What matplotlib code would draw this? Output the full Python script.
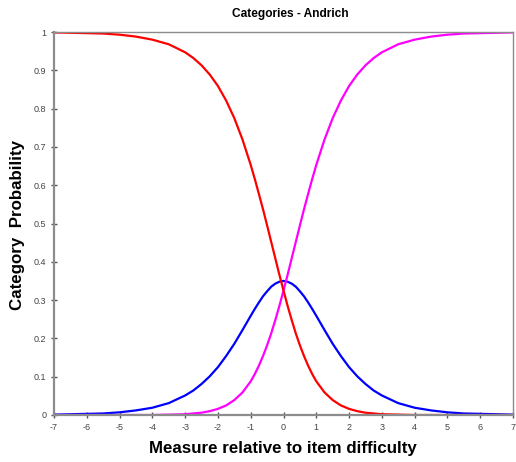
import matplotlib
matplotlib.use("Agg")
import matplotlib.pyplot as plt

plt.rcParams['font.family'] = ['Liberation Sans', 'DejaVu Sans']

title = "Categories - Andrich"
xlabel = "Measure relative to item difficulty"
ylabel = "Category  Probability"

measure = [-7, -6.5, -6, -5.5, -5, -4.5, -4, -3.5, -3, -2.75, -2.5, -2.25, -2,
           -1.75, -1.5, -1.25, -1, -0.875, -0.75, -0.625, -0.5, -0.375, -0.25, -0.125,
           0, 0.125, 0.25, 0.375, 0.5, 0.625, 0.75, 0.875, 1,
           1.25, 1.5, 1.75, 2, 2.25, 2.5, 2.75, 3, 3.5, 4, 4.5, 5, 5.5, 6, 6.5, 7]

cat_low = [0.999, 0.998, 0.997, 0.996, 0.993, 0.988, 0.980, 0.968, 0.947, 0.932,
           0.913, 0.889, 0.859, 0.821, 0.775, 0.719, 0.653, 0.616, 0.577, 0.537,
           0.495, 0.452, 0.409, 0.366, 0.325, 0.285, 0.248, 0.213, 0.182, 0.154,
           0.129, 0.107, 0.088, 0.059, 0.039, 0.025, 0.016, 0.010,
           0.006, 0.004, 0.002, 0.001, 0.000, 0.000, 0.000, 0.000, 0.000, 0.000, 0.000]

cat_mid = [0.001, 0.002, 0.003, 0.004, 0.007, 0.012, 0.019, 0.031, 0.051, 0.064,
           0.081, 0.101, 0.125, 0.154, 0.186, 0.222, 0.259, 0.277, 0.294, 0.310,
           0.323, 0.335, 0.343, 0.348, 0.350, 0.348, 0.343, 0.335, 0.323, 0.310,
           0.294, 0.277, 0.259, 0.222, 0.186, 0.154, 0.125, 0.101,
           0.081, 0.064, 0.051, 0.031, 0.019, 0.012, 0.007, 0.004, 0.003, 0.002, 0.001]

cat_high = [0.000, 0.000, 0.000, 0.000, 0.000, 0.000, 0.000, 0.001, 0.002, 0.004,
            0.006, 0.010, 0.016, 0.025, 0.039, 0.059, 0.088, 0.107, 0.129, 0.154,
            0.182, 0.213, 0.248, 0.285, 0.325, 0.366, 0.409, 0.452, 0.495, 0.537,
            0.577, 0.616, 0.653, 0.719, 0.775, 0.821, 0.859, 0.889,
            0.913, 0.932, 0.947, 0.968, 0.980, 0.988, 0.993, 0.996, 0.997, 0.998, 0.999]

x_ticks = list(range(-7, 8))
y_ticks = [0, 0.1, 0.2, 0.3, 0.4, 0.5, 0.6, 0.7, 0.8, 0.9, 1]
y_tick_labels = ["0", "0.1", "0.2", "0.3", "0.4", "0.5", "0.6", "0.7", "0.8", "0.9", "1"]

fig = plt.figure(figsize=(5.16, 4.62), dpi=100)
ax = fig.add_axes([54/516, 47/462, 459/516, 383/462])

ax.plot(measure, cat_mid, color="#0000ff", lw=1.6, solid_joinstyle="round")
ax.plot(measure, cat_high, color="#ff00ff", lw=1.6, solid_joinstyle="round")
ax.plot(measure, cat_low, color="#ff0000", lw=1.6, solid_joinstyle="round")

ax.set_xlim(-7, 7)
ax.set_ylim(0, 1)
ax.set_xticks(x_ticks)
ax.set_xticklabels([str(v) for v in x_ticks])
ax.set_yticks(y_ticks)
ax.set_yticklabels(y_tick_labels)
ax.tick_params(axis="both", direction="inout", length=5, width=1, color="#555555",
               labelsize=6.5, labelcolor="#444444", pad=3)

for side in ["left", "bottom"]:
    ax.spines[side].set_color("#8c8c8c")
    ax.spines[side].set_linewidth(1.6)
for side in ["top", "right"]:
    ax.spines[side].set_color("#8c8c8c")
    ax.spines[side].set_linewidth(1.0)

fig.text(290/516, 1 - 14/462, title, ha="center", va="center",
         fontsize=8.6, fontweight="bold")
fig.text(283/516, 1 - 449/462, xlabel, ha="center", va="center",
         fontsize=12.2, fontweight="bold")
fig.text(18/516, 1 - 225/462, ylabel, ha="center", va="center",
         fontsize=12.2, fontweight="bold", rotation=90)

fig.savefig("out.png", dpi=100)
